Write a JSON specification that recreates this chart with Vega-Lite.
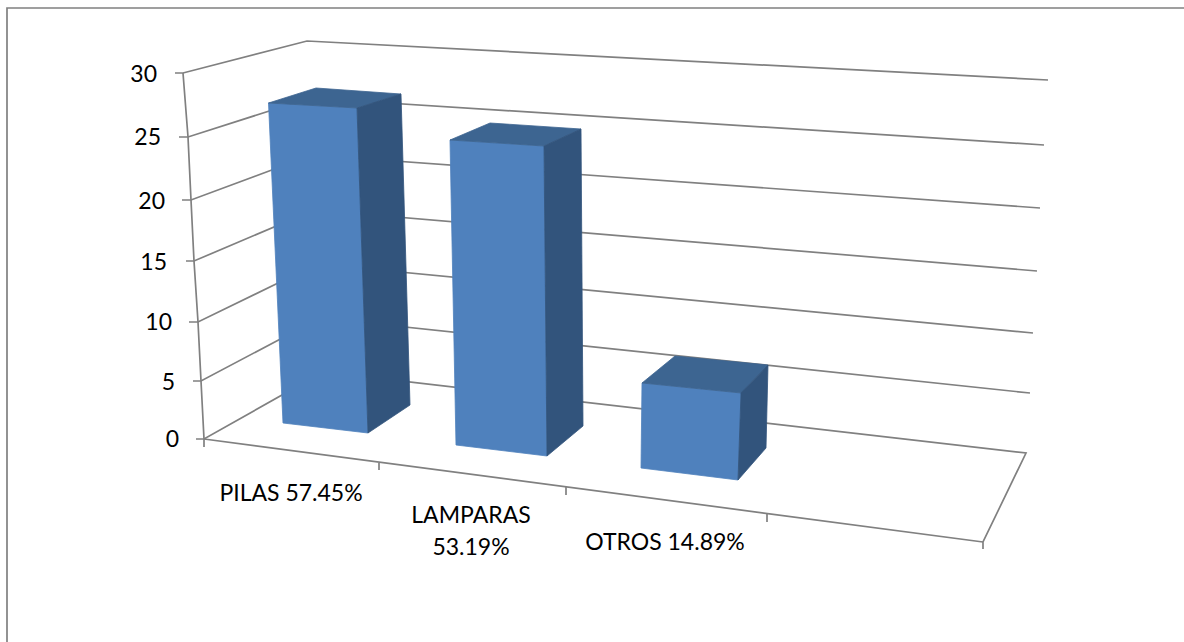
{
"$schema":"https://vega.github.io/schema/vega-lite/v6.json",
"width":1184,"height":642,"padding":0,
"autosize":{"type":"fit","contains":"padding"},
"background":"#ffffff",
"view":{"stroke":null},
"config":{"style":{"cell":{"stroke":null}}},
"datasets":{
"lines":[
{"id":"frame","i":0,"h":7,"v":642},{"id":"frame","i":1,"h":7,"v":8},{"id":"frame","i":2,"h":1184,"v":8},
{"id":"wallaxis","i":0,"h":183,"v":73},{"id":"wallaxis","i":1,"h":188,"v":137},{"id":"wallaxis","i":2,"h":191,"v":200},{"id":"wallaxis","i":3,"h":194,"v":261},{"id":"wallaxis","i":4,"h":198,"v":322},{"id":"wallaxis","i":5,"h":201,"v":381},{"id":"wallaxis","i":6,"h":204,"v":439},{"id":"wallaxis","i":7,"h":204,"v":447},
{"id":"g30","i":0,"h":175,"v":73},{"id":"g30","i":1,"h":183,"v":73},{"id":"g30","i":2,"h":307,"v":41},{"id":"g30","i":3,"h":1048,"v":80},
{"id":"g25","i":0,"h":179,"v":137},{"id":"g25","i":1,"h":188,"v":137},{"id":"g25","i":2,"h":310,"v":98},{"id":"g25","i":3,"h":1044,"v":145},
{"id":"g20","i":0,"h":182,"v":200},{"id":"g20","i":1,"h":191,"v":200},{"id":"g20","i":2,"h":312,"v":155},{"id":"g20","i":3,"h":1040,"v":208},
{"id":"g15","i":0,"h":186,"v":261},{"id":"g15","i":1,"h":194,"v":261},{"id":"g15","i":2,"h":314,"v":210},{"id":"g15","i":3,"h":1037,"v":271},
{"id":"g10","i":0,"h":189,"v":322},{"id":"g10","i":1,"h":198,"v":322},{"id":"g10","i":2,"h":317,"v":264},{"id":"g10","i":3,"h":1033,"v":333},
{"id":"g5","i":0,"h":193,"v":381},{"id":"g5","i":1,"h":201,"v":381},{"id":"g5","i":2,"h":320,"v":318},{"id":"g5","i":3,"h":1030,"v":393},
{"id":"g0","i":0,"h":196,"v":439},{"id":"g0","i":1,"h":204,"v":439},{"id":"g0","i":2,"h":323,"v":372},{"id":"g0","i":3,"h":1026,"v":453},{"id":"g0","i":4,"h":983,"v":542},{"id":"g0","i":5,"h":983,"v":549},
{"id":"front","i":0,"h":204,"v":439},{"id":"front","i":1,"h":983,"v":542},
{"id":"t1","i":0,"h":379,"v":463},{"id":"t1","i":1,"h":379,"v":470},
{"id":"t2","i":0,"h":566,"v":487},{"id":"t2","i":1,"h":566,"v":495},
{"id":"t3","i":0,"h":767,"v":514},{"id":"t3","i":1,"h":767,"v":522}
],
"faces":[
{"bar":"PILAS","valor":27,"face":"frontal","i":0,"h":268.5,"v":103},{"bar":"PILAS","valor":27,"face":"frontal","i":1,"h":357,"v":108},{"bar":"PILAS","valor":27,"face":"frontal","i":2,"h":368,"v":433},{"bar":"PILAS","valor":27,"face":"frontal","i":3,"h":283,"v":423},
{"bar":"PILAS","valor":27,"face":"superior","i":0,"h":268.5,"v":103},{"bar":"PILAS","valor":27,"face":"superior","i":1,"h":316,"v":88},{"bar":"PILAS","valor":27,"face":"superior","i":2,"h":401,"v":94},{"bar":"PILAS","valor":27,"face":"superior","i":3,"h":357,"v":108},
{"bar":"PILAS","valor":27,"face":"lateral","i":0,"h":357,"v":108},{"bar":"PILAS","valor":27,"face":"lateral","i":1,"h":401,"v":94},{"bar":"PILAS","valor":27,"face":"lateral","i":2,"h":410,"v":405},{"bar":"PILAS","valor":27,"face":"lateral","i":3,"h":368,"v":433},
{"bar":"LAMPARAS","valor":25,"face":"frontal","i":0,"h":450,"v":140},{"bar":"LAMPARAS","valor":25,"face":"frontal","i":1,"h":544,"v":146},{"bar":"LAMPARAS","valor":25,"face":"frontal","i":2,"h":547,"v":456},{"bar":"LAMPARAS","valor":25,"face":"frontal","i":3,"h":456,"v":445},
{"bar":"LAMPARAS","valor":25,"face":"superior","i":0,"h":450,"v":140},{"bar":"LAMPARAS","valor":25,"face":"superior","i":1,"h":490,"v":123},{"bar":"LAMPARAS","valor":25,"face":"superior","i":2,"h":581,"v":129},{"bar":"LAMPARAS","valor":25,"face":"superior","i":3,"h":544,"v":146},
{"bar":"LAMPARAS","valor":25,"face":"lateral","i":0,"h":544,"v":146},{"bar":"LAMPARAS","valor":25,"face":"lateral","i":1,"h":581,"v":129},{"bar":"LAMPARAS","valor":25,"face":"lateral","i":2,"h":583,"v":426},{"bar":"LAMPARAS","valor":25,"face":"lateral","i":3,"h":547,"v":456},
{"bar":"OTROS","valor":7,"face":"frontal","i":0,"h":642,"v":383},{"bar":"OTROS","valor":7,"face":"frontal","i":1,"h":741,"v":393},{"bar":"OTROS","valor":7,"face":"frontal","i":2,"h":738,"v":480},{"bar":"OTROS","valor":7,"face":"frontal","i":3,"h":641,"v":468},
{"bar":"OTROS","valor":7,"face":"superior","i":0,"h":642,"v":383},{"bar":"OTROS","valor":7,"face":"superior","i":1,"h":675,"v":356},{"bar":"OTROS","valor":7,"face":"superior","i":2,"h":768,"v":365},{"bar":"OTROS","valor":7,"face":"superior","i":3,"h":741,"v":393},
{"bar":"OTROS","valor":7,"face":"lateral","i":0,"h":741,"v":393},{"bar":"OTROS","valor":7,"face":"lateral","i":1,"h":768,"v":365},{"bar":"OTROS","valor":7,"face":"lateral","i":2,"h":766,"v":448},{"bar":"OTROS","valor":7,"face":"lateral","i":3,"h":738,"v":480}
],
"ticks":[
{"t":"30","h":157,"v":75},{"t":"25","h":161,"v":138},{"t":"20","h":165,"v":202},{"t":"15","h":167,"v":263},{"t":"10","h":172,"v":323},{"t":"5","h":175,"v":383},{"t":"0","h":179,"v":440}
],
"cats":[
{"t":"PILAS 57.45%","h":291,"v":494},{"t":"LAMPARAS","h":471,"v":516},{"t":"53.19%","h":471,"v":548},{"t":"OTROS 14.89%","h":665,"v":543}
]
},
"encoding":{
"x":{"field":"h","type":"quantitative","scale":{"domain":[0,1184],"nice":false,"zero":false},"axis":null},
"y":{"field":"v","type":"quantitative","scale":{"domain":[642,0],"nice":false,"zero":false},"axis":null}
},
"layer":[
{"data":{"name":"lines"},
 "mark":{"type":"line","color":"#808080","strokeWidth":1.7,"clip":true,"interpolate":"linear"},
 "encoding":{"detail":{"field":"id"},"order":{"field":"i","type":"quantitative"}}},
{"data":{"name":"faces"},
 "mark":{"type":"line","filled":true,"strokeWidth":0.8,"interpolate":"linear-closed"},
 "encoding":{
  "detail":[{"field":"bar"},{"field":"face"}],
  "order":{"field":"i","type":"quantitative"},
  "fill":{"field":"face","type":"nominal","legend":null,"scale":{"domain":["frontal","superior","lateral"],"range":["#4F81BD","#3D6591","#32547C"]}},
  "stroke":{"field":"face","type":"nominal","legend":null,"scale":{"domain":["frontal","superior","lateral"],"range":["#4F81BD","#3D6591","#32547C"]}}
 }},
{"data":{"name":"ticks"},
 "mark":{"type":"text","font":"Lato","fontSize":23,"align":"right","baseline":"middle","color":"#000000"},
 "encoding":{"text":{"field":"t"}}},
{"data":{"name":"cats"},
 "mark":{"type":"text","font":"Lato","fontSize":23,"align":"center","baseline":"middle","color":"#000000"},
 "encoding":{"text":{"field":"t"}}}
]
}
